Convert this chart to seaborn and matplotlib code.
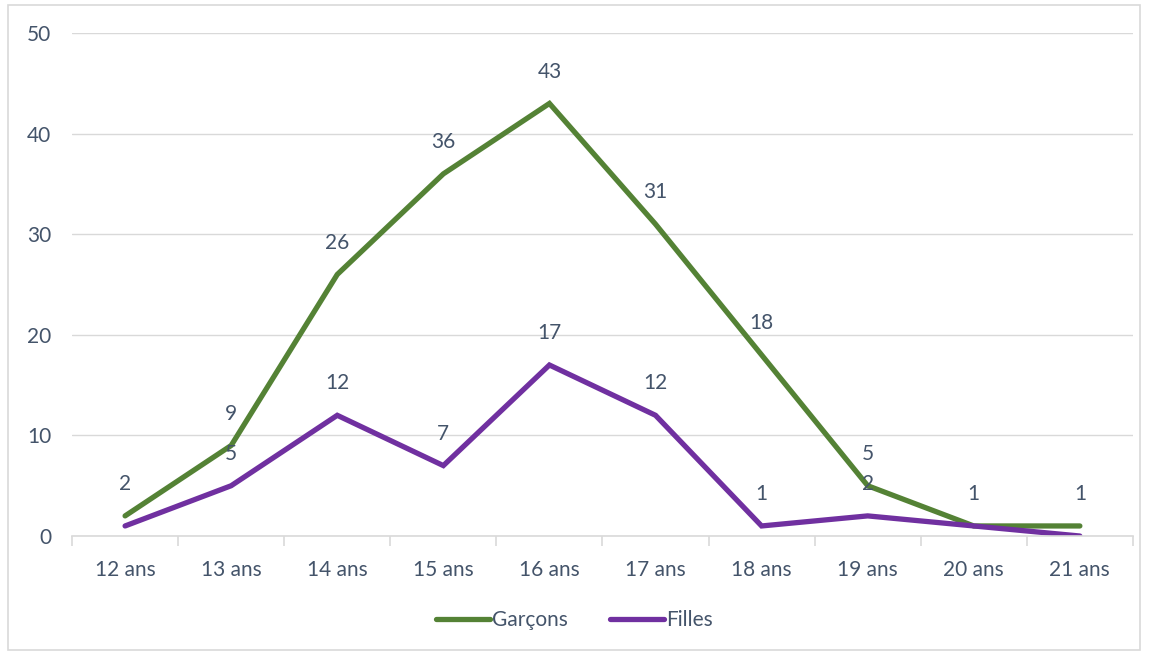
import pandas as pd
import seaborn as sns
import matplotlib.pyplot as plt
from matplotlib.patches import Rectangle

ages = ["12 ans", "13 ans", "14 ans", "15 ans", "16 ans", "17 ans", "18 ans", "19 ans", "20 ans", "21 ans"]
garcons = [2, 9, 26, 36, 43, 31, 18, 5, 1, 1]
filles = [1, 5, 12, 7, 17, 12, 1, 2, 1, 0]
# Excel hid the overlapping labels of the second series at these positions
filles_hidden = [0, 8, 9]

series_names = ["Garçons", "Filles"]
colors = {"Garçons": "#548235", "Filles": "#7030A0"}
text_color = "#44546A"
grid_color = "#D9D9D9"
fs = 15

df = pd.DataFrame({"age": ages * 2, "value": garcons + filles, "serie": ["Garçons"] * len(ages) + ["Filles"] * len(ages)})

sns.set_theme(style="white")
plt.rcParams["font.family"] = ["Lato", "DejaVu Sans"]

fig = plt.figure(figsize=(11.49, 6.54), dpi=100)
ax = fig.add_axes([0.0627, 0.1804, 0.9233, 0.7691])

sns.lineplot(data=df, x="age", y="value", hue="serie", hue_order=series_names, palette=colors, linewidth=3.8, sort=False, ax=ax, solid_capstyle="round", solid_joinstyle="miter")

for i, v in enumerate(garcons):
    ax.annotate(str(v), (i, v), xytext=(0, 23), textcoords="offset points", ha="center", va="center", fontsize=fs, color=text_color)
for i, v in enumerate(filles):
    if i in filles_hidden:
        continue
    ax.annotate(str(v), (i, v), xytext=(0, 23), textcoords="offset points", ha="center", va="center", fontsize=fs, color=text_color)

ax.set_xlim(-0.5, len(ages) - 0.5)
ax.set_ylim(0, 50)
ax.set_yticks(range(0, 51, 10))
ax.yaxis.grid(True, color=grid_color, linewidth=1)
ax.set_axisbelow(True)
ax.set_xlabel("")
ax.set_ylabel("")

for side in ["top", "right", "left"]:
    ax.spines[side].set_visible(False)
ax.spines["bottom"].set_color(grid_color)
ax.spines["bottom"].set_linewidth(1.2)

ax.set_xticks([i - 0.5 for i in range(len(ages) + 1)], minor=True)
ax.tick_params(axis="x", which="minor", length=7, color=grid_color, width=1.2, direction="out", bottom=True)
ax.tick_params(axis="x", which="major", length=0, labelsize=fs, labelcolor=text_color, pad=17)
ax.tick_params(axis="y", length=0, labelsize=fs, labelcolor=text_color, pad=15)

handles, labels = ax.get_legend_handles_labels()
ax.get_legend().remove()
leg = fig.legend(handles, labels, loc="center", bbox_to_anchor=(0.5, 0.052), ncol=2, frameon=False, fontsize=fs, handlelength=2.6, handletextpad=0.1, columnspacing=2.0)
for t in leg.get_texts():
    t.set_color(text_color)
for h in leg.get_lines():
    h.set_linewidth(3.8)

fig.patches.append(Rectangle((0.007, 0.006), 0.985, 0.986, transform=fig.transFigure, fill=False, edgecolor=grid_color, linewidth=1.2))

fig.savefig("out.png", dpi=100)
